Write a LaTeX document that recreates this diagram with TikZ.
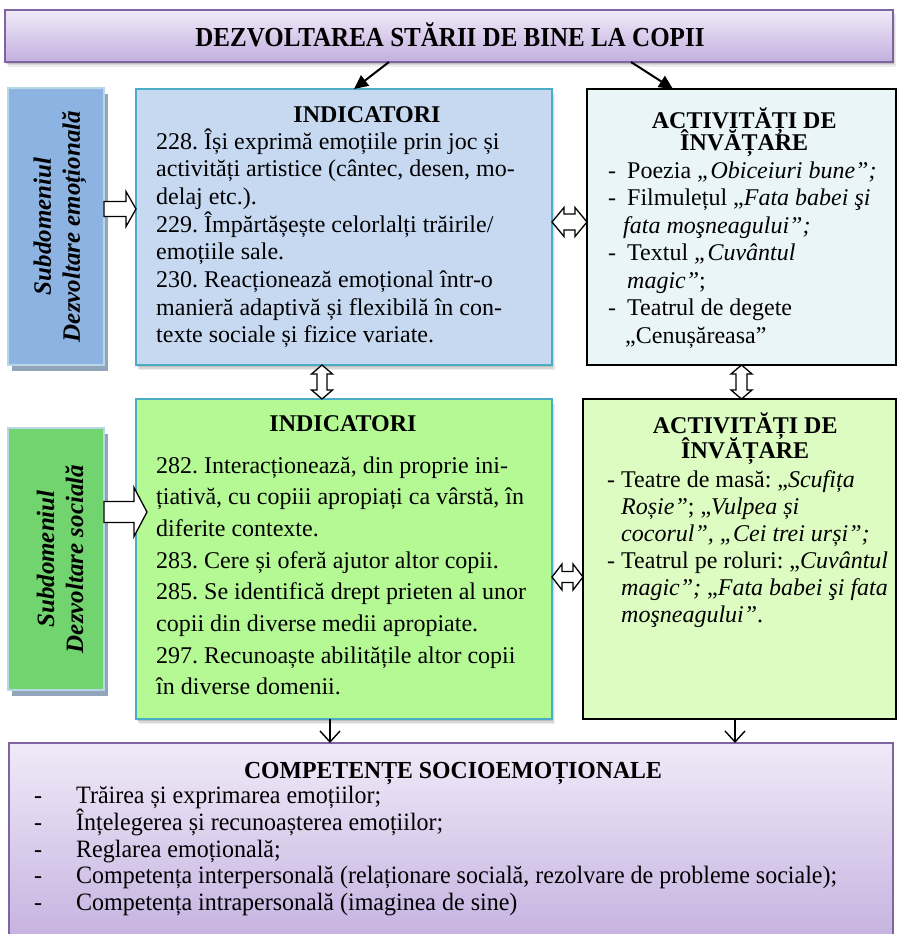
\documentclass[tikz,border=0pt]{standalone}
\usepackage{fontspec}
\setmainfont{Liberation Serif}
\newfontfamily\titlefont[FakeStretch=0.91]{Liberation Serif}
\newfontfamily\compfont[FakeStretch=0.96]{Liberation Serif}
\newfontfamily\comphfont[FakeStretch=0.97]{Liberation Serif}
\usetikzlibrary{calc,fit,shadows,arrows.meta}
\definecolor{titletop}{HTML}{F0EAF8}
\definecolor{titlebot}{HTML}{C3AFDF}
\definecolor{purpleedge}{HTML}{8064A2}
\definecolor{labblue}{HTML}{8DB3E2}
\definecolor{labgreen}{HTML}{72D46E}
\definecolor{labedge}{HTML}{B7D7E6}
\definecolor{labshadow}{HTML}{93A5BA}
\definecolor{indblue}{HTML}{C6D9F1}
\definecolor{indgreen}{HTML}{B5F995}
\definecolor{tealedge}{HTML}{4BACC6}
\definecolor{actblue}{HTML}{EAF5F8}
\definecolor{actgreen}{HTML}{DDFCC2}
\newcommand\sz[2]{\fontsize{#1}{#2}\selectfont}
\newcommand\hollowH[5]{% start, tip, shaft half, head half, head length
  \draw[hollow] ($(#1)+(0,-#3)$) -- ($(#2)+(-#5,-#3)$) -- ($(#2)+(-#5,-#4)$) -- (#2)
    -- ($(#2)+(-#5,#4)$) -- ($(#2)+(-#5,#3)$) -- ($(#1)+(0,#3)$) -- cycle;}
\newcommand\dblH[5]{% left tip, right tip, shaft half, head half, head length
  \draw[hollow] (#1) -- ($(#1)+(#5,-#4)$) -- ($(#1)+(#5,-#3)$) -- ($(#2)+(-#5,-#3)$)
    -- ($(#2)+(-#5,-#4)$) -- (#2) -- ($(#2)+(-#5,#4)$) -- ($(#2)+(-#5,#3)$)
    -- ($(#1)+(#5,#3)$) -- ($(#1)+(#5,#4)$) -- cycle;}
\newcommand\dblV[5]{% top tip, bottom tip, shaft half, head half, head length
  \draw[hollow] (#1) -- ($(#1)+(-#4,#5)$) -- ($(#1)+(-#3,#5)$) -- ($(#2)+(-#3,-#5)$)
    -- ($(#2)+(-#4,-#5)$) -- (#2) -- ($(#2)+(#4,-#5)$) -- ($(#2)+(#3,-#5)$)
    -- ($(#1)+(#3,#5)$) -- ($(#1)+(#4,#5)$) -- cycle;}
\newcommand\acthead[1]{\makebox[272pt]{\bfseries #1}}
\begin{document}
\frenchspacing
\begin{tikzpicture}[x=1pt,y=-1pt,
  frame/.style={rectangle, inner sep=0pt, outer sep=0pt},
  softshadow/.style={
    general shadow={shadow xshift=3pt, shadow yshift=-5pt, fill=black, opacity=0.07},
    general shadow={shadow xshift=2pt, shadow yshift=-3.5pt, fill=black, opacity=0.09},
    general shadow={shadow xshift=1pt, shadow yshift=-2pt, fill=black, opacity=0.12}},
  labelbox/.style={frame, draw=labedge, line width=2.5pt,
    general shadow={shadow xshift=4pt, shadow yshift=-6pt, fill=labshadow}},
  indbox/.style={frame, draw=tealedge, line width=1.5pt, softshadow},
  actbox/.style={frame, draw=black, line width=1.6pt},
  purplebox/.style={frame, draw=purpleedge, line width=2pt, top color=titletop, bottom color=titlebot},
  txt/.style={inner sep=0pt, anchor=base west},
  head/.style={inner sep=0pt, anchor=base, font=\bfseries\sz{24}{24}},
  lab/.style={rotate=90, align=center, inner sep=0pt, font=\bfseries\itshape\sz{25}{29}},
  hollow/.style={draw=black, line width=1.3pt, fill=white, line join=miter},
  solidarrow/.style={line width=2pt, -{Triangle[length=14pt,width=13pt]}},
  vee/.style={line width=1.4pt, -{Straight Barb[length=11pt,width=20pt,line width=1.4pt]}}
]
\path[use as bounding box] (0,0) rectangle (899,934);
\clip (0,0) rectangle (899,934);

% boxes
\node[purplebox, softshadow, fit={(5,10) (893,62)}] (title) {};
\node[labelbox, fill=labblue, fit={(8,88) (104,365)}] (lab1) {};
\node[indbox, fill=indblue, fit={(136,89) (552,365)}] (ind1) {};
\node[actbox, fill=actblue, fit={(587,89) (896,365)}] (act1) {};
\node[labelbox, fill=labgreen, fit={(8,428) (104,690)}] (lab2) {};
\node[indbox, fill=indgreen, fit={(136,399) (552,719)}] (ind2) {};
\node[actbox, fill=actgreen, fit={(583,399) (896,719)}] (act2) {};
\node[purplebox, fit={(9,743) (893,952)}] (comp) {};

% title
\node[inner sep=0pt, anchor=base] (titletxt) at (450,47)
  {\titlefont\bfseries\sz{27.5}{27.5}DEZVOLTAREA STĂRII DE BINE LA COPII};

% labels
\node[lab] (lab1txt) at ($(lab1.center)+(4,0)$) {Subdomeniul\\Dezvoltare emoțională};
\node[lab] (lab2txt) at ($(lab2.center)+(4,0)$) {Subdomeniul\\Dezvoltare socială};

% indicators 1
\node[head] (ind1h) at (367,122) {INDICATORI};
\node[txt] (ind1txt) at (156,149) {\parbox[t]{390pt}{\sz{24}{27.7}%
228. Își exprimă emoțiile prin joc și\\
activități artistice (cântec, desen, mo-\\
delaj etc.).\\
229. Împărtășește celorlalți trăirile/\\
emoțiile sale.\\
230. Reacționează emoțional într-o\\
manieră adaptivă și flexibilă în con-\\
texte sociale și fizice variate.}};

% activities 1 (heading and list in one block)
\node[txt] (act1txt) at (608,128) {\parbox[t]{290pt}{\sz{24}{27.5}%
\acthead{ACTIVITĂȚI DE}\\[-5pt]
\acthead{ÎNVĂȚARE}\\[0pt]
\makebox[19pt][l]{-}Poezia \textit{„Obiceiuri bune”;}\\
\makebox[19pt][l]{-}Filmulețul „\textit{Fata babei şi}\\
\hspace*{15pt}\textit{fata moşneagului”;}\\
\makebox[19pt][l]{-}Textul \textit{„Cuvântul}\\
\hspace*{19pt}\textit{magic”};\\
\makebox[19pt][l]{-}Teatrul de degete\\
\hspace*{17pt}„Cenușăreasa”}};

% indicators 2
\node[head] (ind2h) at (343,431) {INDICATORI};
\node[txt] (ind2txt) at (156,473) {\parbox[t]{390pt}{\sz{24}{31.7}%
282. Interacționează, din proprie ini-\\
țiativă, cu copiii apropiați ca vârstă, în\\
diferite contexte.\\
283. Cere și oferă ajutor altor copii.\\
285. Se identifică drept prieten al unor\\
copii din diverse medii apropiate.\\
297. Recunoaște abilitățile altor copii\\
în diverse domenii.}};

% activities 2 (heading and list in one block)
\node[txt] (act2txt) at (607,433) {\parbox[t]{290pt}{\sz{24}{27}%
\hspace*{2pt}\acthead{ACTIVITĂȚI DE}\\[-2pt]
\hspace*{2pt}\acthead{ÎNVĂȚARE}\\[2pt]
- Teatre de masă: „\textit{Scufița}\\
\hphantom{- }\textit{Roșie”}; „\textit{Vulpea și}\\
\hphantom{- }\textit{cocorul”, „Cei trei urși”;}\\
- Teatrul pe roluri: „\textit{Cuvântul}\\
\hphantom{- }\textit{magic”;} „\textit{Fata babei şi fata}\\
\hphantom{- }\textit{moşneagului”}.}};

% competences
\node[head, font=\comphfont\bfseries\sz{24.5}{24.5}] (comph) at (453,778) {COMPETENȚE SOCIOEMOȚIONALE};
\node[txt] (comptxt) at (34,803) {\parbox[t]{860pt}{\compfont\sz{25}{26.5}%
\makebox[42pt][l]{-}Trăirea și exprimarea emoțiilor;\\
\makebox[42pt][l]{-}Înțelegerea și recunoașterea emoțiilor;\\
\makebox[42pt][l]{-}Reglarea emoțională;\\
\makebox[42pt][l]{-}Competența interpersonală (relaționare socială, rezolvare de probleme sociale);\\
\makebox[42pt][l]{-}Competența intrapersonală (imaginea de sine)}};

% connectors
\draw[solidarrow] ([xshift=-60pt]title.south) -- ([xshift=10pt]ind1.north);
\draw[solidarrow] ([xshift=182pt]title.south) -- ([xshift=-68.5pt]act1.north);

\coordinate (h1s) at ($(lab1.east)+(0,-17.5)$);
\coordinate (h1t) at (h1s -| ind1.west);
\hollowH{h1s}{h1t}{7.5}{17.5}{10}
\coordinate (h2s) at ($(lab2.east)+(0,-47)$);
\coordinate (h2t) at ($(h2s -| ind2.west)+(11,0)$);
\hollowH{h2s}{h2t}{10.5}{24.5}{13}

\coordinate (d1l) at ($(ind1.east)+(0,-5)$);
\coordinate (d1r) at (d1l -| act1.west);
\dblH{d1l}{d1r}{8}{14.5}{12}
\coordinate (d2l) at ($(ind2.east)+(0,18)$);
\coordinate (d2r) at (d2l -| act2.west);
\dblH{d2l}{d2r}{5.5}{13}{10}

\coordinate (v1t) at ($(ind1.south)+(-22,0)$);
\coordinate (v1b) at (v1t |- ind2.north);
\dblV{v1t}{v1b}{5}{10.5}{9}
\coordinate (v2t) at (act1.south);
\coordinate (v2b) at (v2t |- act2.north);
\dblV{v2t}{v2b}{5.5}{10.5}{9}

\draw[vee] ([xshift=-14pt]ind2.south) -- ([xshift=-14pt]ind2.south |- comp.north);
\draw[vee] ([xshift=-4.5pt]act2.south) -- ([xshift=-4.5pt]act2.south |- comp.north);
\end{tikzpicture}
\end{document}
